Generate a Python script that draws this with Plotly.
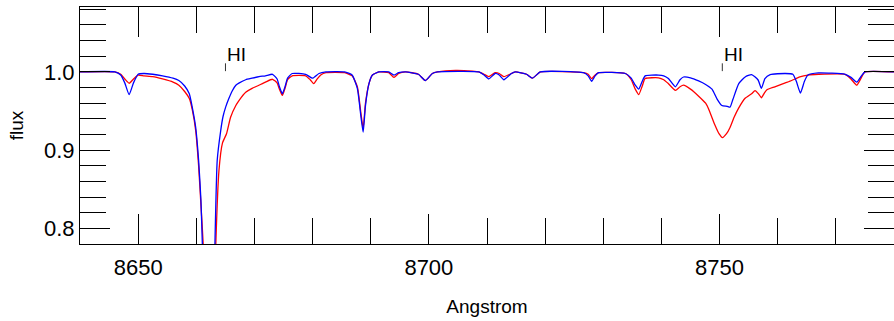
import plotly.graph_objects as go

# Normalised spectra around the Ca II 8662 / Paschen region (wavelength in Angstrom)
blue_wave = [8640.0, 8646.0, 8647.0, 8647.7, 8648.45, 8649.2, 8650.0, 8651.0, 8652.5, 8654.2,
             8656.0, 8657.0, 8658.0, 8658.8, 8659.3, 8659.9, 8660.4, 8660.8, 8661.05, 8661.5,
             8662.2, 8662.9, 8663.2, 8663.6, 8664.2, 8664.6, 8665.05, 8665.6, 8666.2, 8666.8,
             8667.4, 8668.5, 8669.6, 8670.8, 8671.9, 8673.1, 8673.9, 8674.3, 8674.8, 8675.3,
             8675.7, 8676.5, 8678.8, 8680.0, 8681.1, 8682.3, 8685.5, 8686.8, 8687.7, 8688.3,
             8688.7, 8689.1, 8689.7, 8690.3, 8691.4, 8693.1, 8694.0, 8694.8, 8696.0, 8698.2,
             8699.4, 8700.6, 8701.5, 8708.6, 8709.5, 8710.3, 8711.4, 8712.1, 8712.9, 8714.2,
             8714.9, 8716.8, 8717.8, 8719.2, 8726.6, 8727.4, 8728.0, 8728.6, 8729.2, 8733.8,
             8734.8, 8735.5, 8736.1, 8736.7, 8737.2, 8739.5, 8740.4, 8741.2, 8742.4, 8743.2,
             8743.8, 8745.0, 8746.4, 8747.6, 8748.7, 8749.6, 8750.4, 8751.3, 8751.8, 8752.3,
             8753.3, 8754.4, 8755.5, 8756.6, 8757.2, 8757.8, 8758.7, 8761.3, 8762.6, 8763.2,
             8763.9, 8764.6, 8765.2, 8767.0, 8771.6, 8772.6, 8773.6, 8774.4, 8775.0, 8780.0]
blue_flux = [1.000, 1.000, 0.996, 0.986, 0.971, 0.986, 0.997, 0.998, 0.997, 0.995,
             0.992, 0.989, 0.982, 0.972, 0.955, 0.929, 0.887, 0.836, 0.778, 0.660,
             0.560, 0.660, 0.778, 0.887, 0.925, 0.943, 0.955, 0.966, 0.976, 0.983,
             0.986, 0.990, 0.992, 0.994, 0.995, 0.997, 0.991, 0.981, 0.972, 0.982,
             0.992, 0.998, 0.997, 0.992, 0.998, 1.000, 1.000, 0.996, 0.979, 0.944,
             0.923, 0.957, 0.985, 0.996, 1.000, 1.000, 0.996, 0.999, 1.000, 0.997,
             0.989, 0.998, 1.000, 1.000, 0.996, 0.991, 0.998, 0.996, 0.990, 0.998,
             1.000, 0.997, 0.992, 1.000, 0.999, 0.995, 0.988, 0.995, 0.999, 0.998,
             0.992, 0.983, 0.978, 0.988, 0.995, 0.996, 0.995, 0.9915, 0.981, 0.990,
             0.9935, 0.9925, 0.9885, 0.984, 0.978, 0.965, 0.957, 0.956, 0.955, 0.965,
             0.985, 0.9936, 0.9966, 0.990, 0.979, 0.9915, 0.9966, 0.998, 0.997, 0.988,
             0.973, 0.988, 0.996, 0.9987, 0.997, 0.993, 0.987, 0.995, 1.000, 1.000]

red_wave = [8640.0, 8646.0, 8647.0, 8647.7, 8648.45, 8649.2, 8650.0, 8651.0, 8652.5, 8654.2,
            8656.0, 8657.0, 8658.0, 8658.8, 8659.3, 8659.9, 8660.4, 8660.8, 8661.2, 8661.6,
            8662.3, 8663.0, 8663.35, 8663.9, 8664.5, 8665.2, 8665.9, 8666.8, 8667.4, 8668.5,
            8669.6, 8670.5, 8671.9, 8673.1, 8673.9, 8674.3, 8674.8, 8675.3, 8675.7, 8676.5,
            8678.8, 8679.6, 8680.2, 8680.8, 8681.4, 8682.3, 8685.5, 8686.8, 8687.7, 8688.3,
            8688.7, 8689.1, 8689.7, 8690.3, 8691.4, 8693.1, 8694.0, 8694.8, 8696.0, 8698.2,
            8699.4, 8700.6, 8701.5, 8704.6, 8707.5, 8708.6, 8709.5, 8710.3, 8711.4, 8712.1,
            8712.9, 8714.2, 8714.9, 8716.8, 8717.8, 8719.2, 8726.6, 8727.4, 8728.0, 8728.6,
            8729.2, 8733.8, 8734.8, 8735.5, 8736.1, 8736.7, 8737.2, 8739.5, 8740.4, 8741.2,
            8742.4, 8743.2, 8743.8, 8745.0, 8746.4, 8747.6, 8748.1, 8749.2, 8749.9, 8750.5,
            8751.2, 8751.8, 8752.5, 8753.3, 8754.35, 8755.5, 8756.1, 8756.7, 8757.2, 8757.7,
            8758.1, 8759.5, 8761.3, 8762.4, 8763.8, 8765.2, 8767.0, 8771.6, 8772.6, 8773.6,
            8774.4, 8775.0, 8780.0]
red_flux = [1.000, 1.000, 0.997, 0.991, 0.9855, 0.991, 0.996, 0.995, 0.994, 0.991,
            0.987, 0.983, 0.975, 0.966, 0.952, 0.925, 0.880, 0.830, 0.778, 0.660,
            0.560, 0.660, 0.778, 0.874, 0.909, 0.921, 0.942, 0.957, 0.964, 0.974,
            0.979, 0.982, 0.987, 0.9906, 0.986, 0.978, 0.970, 0.980, 0.990, 0.995,
            0.995, 0.990, 0.985, 0.991, 0.996, 0.999, 0.999, 0.995, 0.981, 0.948,
            0.928, 0.960, 0.985, 0.996, 1.000, 0.999, 0.993, 0.998, 1.000, 0.997,
            0.989, 0.998, 1.000, 1.002, 1.001, 1.000, 0.997, 0.994, 0.999, 0.998,
            0.994, 0.998, 1.000, 0.997, 0.992, 1.000, 0.999, 0.997, 0.9915, 0.996,
            0.999, 0.998, 0.990, 0.978, 0.971, 0.982, 0.9915, 0.9925, 0.990, 0.985,
            0.9765, 0.981, 0.983, 0.978, 0.969, 0.960, 0.953, 0.932, 0.921, 0.916,
            0.921, 0.929, 0.942, 0.954, 0.966, 0.972, 0.976, 0.972, 0.967, 0.973,
            0.977, 0.981, 0.986, 0.989, 0.9936, 0.996, 0.997, 0.997, 0.991, 0.983,
            0.993, 1.000, 1.000]

# Hydrogen line markers
line_waves = [8665.02, 8750.47]
line_labels = ["HI", "HI"]

FONT = "Liberation Sans, Arial, Helvetica, sans-serif"

fig = go.Figure()
fig.add_trace(go.Scatter(x=red_wave, y=red_flux, mode="lines",
                         line=dict(color="#ff0000", width=1.3, shape="spline", smoothing=0.5),
                         showlegend=False))
fig.add_trace(go.Scatter(x=blue_wave, y=blue_flux, mode="lines",
                         line=dict(color="#0000ff", width=1.3, shape="spline", smoothing=0.5),
                         showlegend=False))

for wl, lab in zip(line_waves, line_labels):
    fig.add_shape(type="line", x0=wl, x1=wl, y0=1.001, y1=1.011, xref="x", yref="y",
                  line=dict(color="#333333", width=1))
    fig.add_annotation(x=wl, y=1.011, text=lab, showarrow=False, xanchor="left",
                       yanchor="bottom", xshift=0, yshift=-4,
                       font=dict(family=FONT, size=19, color="black"))

axis_common = dict(
    showline=True, linecolor="black", linewidth=1, mirror="ticks",
    ticks="inside", tickcolor="black", tickwidth=1, ticklen=30,
    showgrid=False, zeroline=False, automargin=False,
    tickfont=dict(family=FONT, size=22, color="black"),
)

fig.update_xaxes(
    range=[8640, 8780], tick0=8650, dtick=50,
    minor=dict(dtick=10, ticks="inside", ticklen=26, tickcolor="black", tickwidth=1, showgrid=False),
    title=dict(text="Angstrom", font=dict(family=FONT, size=19, color="black"), standoff=20),
    ticklabelstandoff=4,
    **axis_common,
)
fig.update_yaxes(
    range=[0.78, 1.083], tick0=0.8, dtick=0.1, tickformat=".1f",
    minor=dict(dtick=0.02, ticks="inside", ticklen=26, tickcolor="black", tickwidth=1, showgrid=False),
    title=dict(text="flux", font=dict(family=FONT, size=19, color="black"), standoff=15),
    **axis_common,
)

fig.update_layout(
    width=894, height=321,
    margin=dict(l=80, r=0, t=7, b=77),
    plot_bgcolor="white", paper_bgcolor="white",
    showlegend=False,
)

fig.write_html("out.html")
